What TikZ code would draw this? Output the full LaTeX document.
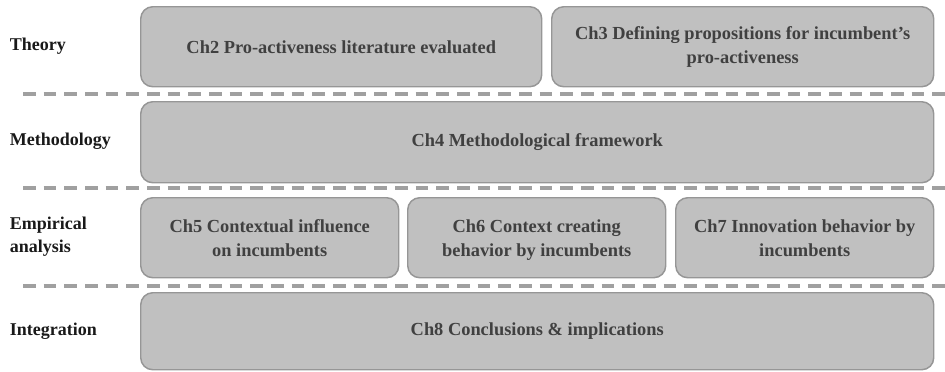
\documentclass[tikz,border=0pt]{standalone}
\usepackage{fontspec}
\setmainfont{Liberation Serif}
\definecolor{chfill}{RGB}{192,192,192}
\definecolor{chdraw}{RGB}{150,150,150}
\definecolor{chtext}{RGB}{64,64,64}
\definecolor{sepgray}{RGB}{160,160,160}
\tikzset{
	chapter/.style={draw=chdraw, fill=chfill, line width=1.1pt, rounded corners=9pt,
		anchor=north west, inner sep=0pt, align=center, text=chtext,
		font=\fontsize{13.8}{18}\selectfont\bfseries},
	part/.style={anchor=west, align=left, text=black!90,
		font=\fontsize{13.5}{17.5}\selectfont\bfseries},
	separator/.style={draw=sepgray, line width=2.5pt, dash pattern=on 9.5pt off 6pt}
}
\tikzset{every picture/.style={line width=0.75pt}}

\begin{document}
\begin{tikzpicture}[x=0.75pt,y=0.75pt,yscale=-1,xscale=1]
	\useasboundingbox (0,0) rectangle (945,371);

	% Row labels
	\node[part] (theory) at (5,46) {Theory};
	\node[part] (method) at (5,141) {Methodology};
	\node[part] (empir) at (5,237) {Empirical\\analysis};
	\node[part] (integ) at (5,331) {Integration};

	% Theory
	\node[chapter, minimum width=401*0.75pt, minimum height=80*0.75pt] (chtwo) at (140,6) {Ch2 Pro-activeness literature evaluated};
	\node[chapter, minimum width=382*0.75pt, minimum height=80*0.75pt] (chthree) at (551,6) {Ch3 Defining propositions for incumbent’s\\pro-activeness};
	% Methodology
	\node[chapter, minimum width=793*0.75pt, minimum height=81*0.75pt] (chfour) at (140,101) {Ch4 Methodological framework};
	% Empirical analysis
	\node[chapter, minimum width=258*0.75pt, minimum height=80*0.75pt] (chfive) at (140,197) {Ch5 Contextual influence\\on incumbents};
	\node[chapter, minimum width=258*0.75pt, minimum height=80*0.75pt] (chsix) at (407,197) {\strut Ch6 Context creating\\behavior by incumbents};
	\node[chapter, minimum width=258*0.75pt, minimum height=80*0.75pt] (chseven) at (675,197) {Ch7 Innovation behavior by\\incumbents};
	% Integration
	\node[chapter, minimum width=793*0.75pt, minimum height=77*0.75pt] (cheight) at (140,292) {Ch8 Conclusions \& implications};

	% Dashed separators
	\coordinate (sepa) at (23,94);
	\coordinate (sepb) at (23,188);
	\coordinate (sepc) at (23,286);
	\draw[separator] (sepa) -- (sepa -| 945,0);
	\draw[separator] (sepb) -- (sepb -| 945,0);
	\draw[separator] (sepc) -- (sepc -| 945,0);
\end{tikzpicture}
\end{document}
